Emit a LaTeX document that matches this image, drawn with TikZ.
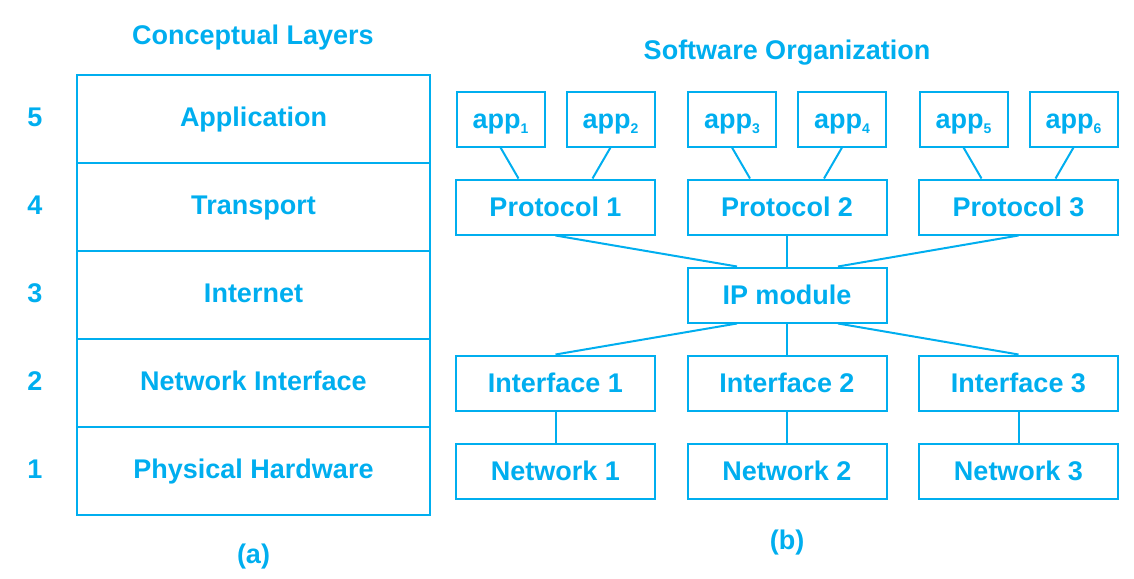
\documentclass[tikz,border=0pt]{standalone}
\usepackage{fontspec}
\setmainfont{Liberation Sans}
\usetikzlibrary{positioning}
\definecolor{layerblue}{HTML}{00AEEF}
\newcommand{\appsub}[1]{app\raisebox{-2.5pt}{\fontsize{7}{7}\selectfont #1}}

\begin{document}
\begin{tikzpicture}[line width=1pt,color=layerblue,node distance=44pt,font=\bfseries\fontsize{13.5}{16}\selectfont,
    every node/.style={text height=10pt, text depth=2.5pt},
    layer/.style={draw, rectangle, minimum width=176.5pt, minimum height=44pt, inner sep=0pt},
    module/.style={draw, rectangle, minimum width=99.5pt, minimum height=27.5pt, inner sep=0pt, text height=12pt},
    app/.style={draw, rectangle, minimum width=44pt, minimum height=27.5pt, inner sep=0pt, text height=12pt}]
            \useasboundingbox (0,0) rectangle (567pt,-289pt);

            % (a) conceptual layers
            \node[] (T1) at (126.5pt,-18.5pt) {Conceptual Layers};
            \node[layer] (L5) at (126.75pt,-59.5pt) {Application};
            \node[layer] (L4) [below of = L5] {Transport};
            \node[layer] (L3) [below of = L4] {Internet};
            \node[layer] (L2) [below of = L3] {Network Interface};
            \node[layer] (L1) [below of = L2] {Physical Hardware};
            \node[] (n5) [left of = L5, xshift = -65.25pt] {5};
            \node[] (n4) [left of = L4, xshift = -65.25pt] {4};
            \node[] (n3) [left of = L3, xshift = -65.25pt] {3};
            \node[] (n2) [left of = L2, xshift = -65.25pt] {2};
            \node[] (n1) [left of = L1, xshift = -65.25pt] {1};
            \node[] (a) [below of = L1, yshift = 1.5pt] {(a)};

            % (b) software organization
            \node[module] (P1) at (277.75pt,-103.5pt) {Protocol 1};
            \node[module] (P2) [right of = P1, xshift = 71.75pt] {Protocol 2};
            \node[module] (P3) [right of = P2, xshift = 71.75pt] {Protocol 3};
            \node[] (T2) [above of = P2, yshift = 33.5pt] {Software Organization};
            \node[app] (A1) [above of = P1, xshift = -27.5pt] {\appsub{1}};
            \node[app] (A2) [above of = P1, xshift = 27.5pt] {\appsub{2}};
            \node[app] (A3) [above of = P2, xshift = -27.5pt] {\appsub{3}};
            \node[app] (A4) [above of = P2, xshift = 27.5pt] {\appsub{4}};
            \node[app] (A5) [above of = P3, xshift = -27.5pt] {\appsub{5}};
            \node[app] (A6) [above of = P3, xshift = 27.5pt] {\appsub{6}};
            \node[module] (IP) [below of = P2] {IP module};
            \node[module] (I1) [below of = P1, yshift = -44pt] {Interface 1};
            \node[module] (I2) [below of = IP] {Interface 2};
            \node[module] (I3) [below of = P3, yshift = -44pt] {Interface 3};
            \node[module] (N1) [below of = I1] {Network 1};
            \node[module] (N2) [below of = I2] {Network 2};
            \node[module] (N3) [below of = I3] {Network 3};
            \node[] (b) [below of = N2, yshift = 8.75pt] {(b)};

            \path
                (A1.south) edge ([xshift = -18.5pt]P1.north)
                (A2.south) edge ([xshift = 18.5pt]P1.north)
                (A3.south) edge ([xshift = -18.5pt]P2.north)
                (A4.south) edge ([xshift = 18.5pt]P2.north)
                (A5.south) edge ([xshift = -18.5pt]P3.north)
                (A6.south) edge ([xshift = 18.5pt]P3.north)
                (P1.south) edge ([xshift = -25pt]IP.north)
                (P2) edge (IP)
                (P3.south) edge ([xshift = 25.5pt]IP.north)
                ([xshift = -25pt]IP.south) edge (I1.north)
                (IP) edge (I2)
                ([xshift = 25.5pt]IP.south) edge (I3.north)
                (I1) edge (N1)
                (I2) edge (N2)
                (I3) edge (N3)
                ;
        \end{tikzpicture}
\end{document}
